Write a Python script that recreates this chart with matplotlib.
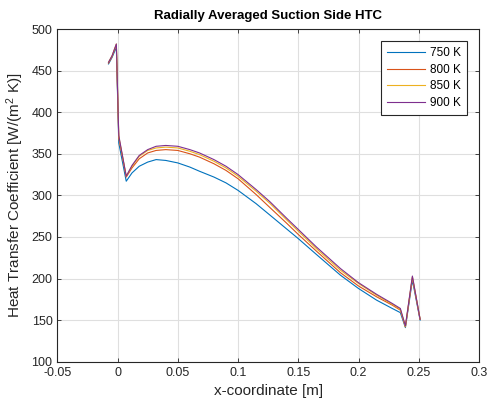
import matplotlib
matplotlib.use('Agg')
import matplotlib.pyplot as plt

plt.rcParams['font.family'] = ['Liberation Sans', 'DejaVu Sans']
plt.rcParams['mathtext.default'] = 'regular'

# radially averaged HTC along the suction side, one series per temperature
x = [-0.0075, -0.0045, -0.001, 0.001, 0.0072, 0.012, 0.018, 0.025, 0.032,
     0.04, 0.05, 0.06, 0.068, 0.08, 0.09, 0.1, 0.115, 0.1267, 0.14, 0.15,
     0.165, 0.185, 0.2, 0.215, 0.228, 0.2347, 0.2389, 0.2447, 0.2511]

htc_750 = [458, 466, 478, 363, 317, 327, 335, 340, 343, 342, 339, 334, 329,
           322, 315, 306, 290, 276, 260, 248, 229, 204, 188, 174, 164, 159,
           141, 198, 150]
htc_800 = [459, 467, 481, 369, 322, 333, 344, 351, 354, 355, 354, 350, 346,
           338, 330, 320, 301, 285, 267, 253, 233, 207, 191, 178, 168, 162,
           142, 201, 151]
htc_850 = [460, 468, 482, 371, 323, 335, 347, 354, 357, 358, 357, 353, 349,
           341, 333, 323, 305, 290, 271, 257, 236, 210, 194, 180, 169, 163,
           142, 202, 151]
htc_900 = [460, 468, 482, 372, 323, 336, 348, 355, 359, 360, 359, 355, 351,
           343, 335, 325, 307, 292, 273, 259, 238, 212, 195, 181, 170, 164,
           143, 203, 151]

labels = ['750 K', '800 K', '850 K', '900 K']
colors = ['#0072BD', '#D95319', '#EDB120', '#7E2F8E']

fig = plt.figure(figsize=(4.89, 4.07), dpi=100)
ax = fig.add_axes([0.1172, 0.1113, 0.8624, 0.8174])

for y, lab, c in zip([htc_750, htc_800, htc_850, htc_900], labels, colors):
    ax.plot(x, y, color=c, lw=0.8, label=lab)

ax.set_xlim(-0.05, 0.3)
ax.set_ylim(100, 500)
ax.set_xticks([-0.05, 0, 0.05, 0.1, 0.15, 0.2, 0.25, 0.3])
ax.set_xticklabels(['-0.05', '0', '0.05', '0.1', '0.15', '0.2', '0.25', '0.3'])
ax.set_yticks(range(100, 501, 50))

ax.grid(True, color='#dfdfdf', lw=0.8)
ax.set_axisbelow(True)
for s in ax.spines.values():
    s.set_color('#262626')
    s.set_linewidth(0.8)
ax.tick_params(direction='in', length=3, width=0.6, colors='#262626',
               labelsize=9, top=True, right=True)

ax.set_title('Radially Averaged Suction Side HTC', fontsize=9.5,
             fontweight='bold', pad=7)
ax.set_xlabel('x-coordinate [m]', fontsize=11, color='#262626')
ax.set_ylabel('Heat Transfer Coefficient [W/(m$^2$ K)]', fontsize=11,
              color='#262626')

leg = ax.legend(loc='upper right', fontsize=8.5, frameon=True, fancybox=False,
                edgecolor='#262626', framealpha=1, handlelength=3.2,
                handletextpad=0.4, borderpad=0.5, borderaxespad=1.05,
                labelspacing=0.38)
leg.get_frame().set_linewidth(0.8)

fig.savefig('out.png', dpi=100)
